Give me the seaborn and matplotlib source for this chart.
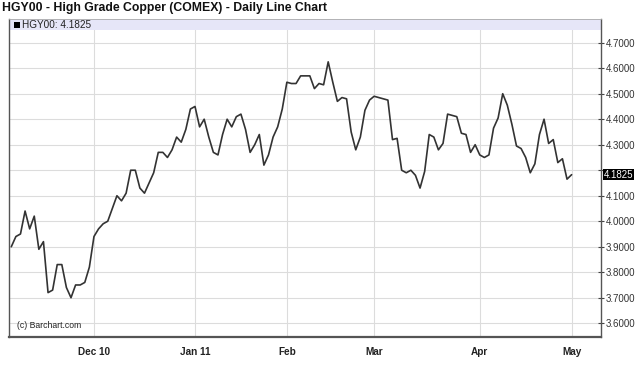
import numpy as np
import pandas as pd
import matplotlib
matplotlib.use("Agg")
import matplotlib.pyplot as plt
import seaborn as sns
from matplotlib.patches import Rectangle
from matplotlib.ticker import FuncFormatter

title = "HGY00 - High Grade Copper (COMEX) - Daily Line Chart"
symbol = "HGY00"
last_price = 4.1825
credit = "(c) Barchart.com"

prices = [
    3.90, 3.94, 3.95, 4.04, 3.97, 4.02, 3.89, 3.92, 3.72, 3.73,
    3.83, 3.83, 3.74, 3.70, 3.75, 3.75, 3.76, 3.82, 3.94, 3.97,
    3.99, 4.00, 4.05, 4.10, 4.08, 4.11, 4.20, 4.20, 4.13, 4.11,
    4.15, 4.19, 4.27, 4.27, 4.25, 4.28, 4.33, 4.31, 4.36, 4.44,
    4.45, 4.37, 4.40, 4.33, 4.27, 4.26, 4.34, 4.40, 4.37, 4.41,
    4.42, 4.36, 4.27, 4.30, 4.34, 4.22, 4.26, 4.33, 4.37, 4.44,
    4.545, 4.54, 4.54, 4.57, 4.57, 4.57, 4.52, 4.54, 4.535, 4.625,
    4.545, 4.47, 4.485, 4.48, 4.35, 4.28, 4.33, 4.435, 4.475, 4.49,
    4.485, 4.48, 4.475, 4.32, 4.325, 4.20, 4.19, 4.20, 4.18, 4.13,
    4.195, 4.34, 4.33, 4.28, 4.305, 4.42, 4.415, 4.41, 4.345, 4.34,
    4.27, 4.30, 4.26, 4.25, 4.26, 4.365, 4.405, 4.50, 4.455, 4.38,
    4.295, 4.285, 4.25, 4.19, 4.225, 4.34, 4.40, 4.305, 4.32, 4.23,
    4.245, 4.165, 4.1825,
]
start_date = "2010-11-04"
end_date = "2011-05-02"
holidays = ["2010-11-25", "2010-12-24", "2011-01-17", "2011-02-21", "2011-04-22"]
month_labels = ["Dec 10", "Jan 11", "Feb", "Mar", "Apr", "May"]
y_ticks = [3.6, 3.7, 3.8, 3.9, 4.0, 4.1, 4.2, 4.3, 4.4, 4.5, 4.6, 4.7]

dates = pd.bdate_range(start_date, end_date)
dates = dates[~dates.isin(pd.to_datetime(holidays))]
df = pd.DataFrame({"idx": np.arange(len(prices)), "date": dates[:len(prices)], "price": prices})
month_starts = df.groupby(df["date"].dt.to_period("M"))["idx"].min().values[1:]

sns.set_style("white")
plt.rcParams["font.family"] = ["Liberation Sans", "DejaVu Sans"]

fig = plt.figure(figsize=(6.4, 3.75), dpi=100)
ax = fig.add_axes([9 / 640, 1 - 337 / 375, 592 / 640, 318 / 375])

sns.lineplot(data=df, x="idx", y="price", ax=ax, color="#333333", linewidth=1.2, zorder=3)

ax.set_xlim(-0.5, 128.4)
ax.set_ylim(3.546, 4.793)
ax.set_xlabel("")
ax.set_ylabel("")


def ylab(v, pos):
    # the last-price box takes the place of the nearest tick label
    if abs(v - last_price) < 0.05:
        return ""
    return f"{v:.4f}"


ax.set_yticks(y_ticks)
ax.yaxis.set_major_formatter(FuncFormatter(ylab))
ax.yaxis.tick_right()
ax.tick_params(axis="y", direction="inout", length=5, width=0.8, color="#444444",
               labelsize=7, labelcolor="#333333", pad=1, left=False, right=True)
ax.set_xticks(month_starts)
ax.set_xticklabels(month_labels, fontweight="bold")
ax.tick_params(axis="x", direction="out", length=3, width=0.8, color="#444444",
               labelsize=7.2, labelcolor="#222222", pad=4)

ax.grid(True, color="#dcdcdc", linewidth=0.8, zorder=0)
ax.set_axisbelow(True)

for side in ["left", "bottom", "right"]:
    ax.spines[side].set_visible(True)
    ax.spines[side].set_color("#555555")
ax.spines["left"].set_linewidth(1.0)
ax.spines["right"].set_linewidth(1.0)
ax.spines["bottom"].set_linewidth(1.6)
ax.spines["top"].set_color("#aaaaaa")
ax.spines["top"].set_linewidth(0.6)

# legend band
band_h = 11 / 318
ax.add_patch(Rectangle((0, 1 - band_h), 1, band_h, transform=ax.transAxes,
                       facecolor="#e6e6f8", edgecolor="none", zorder=2))
ax.add_patch(Rectangle((5 / 592, 1 - 8.5 / 318), 5.5 / 592, 5.5 / 318, transform=ax.transAxes,
                       facecolor="black", edgecolor="none", zorder=4))
ax.text(13 / 592, 1 - 5.7 / 318, f"{symbol}: {last_price:.4f}", transform=ax.transAxes,
        fontsize=7.2, color="#222222", va="center", ha="left", zorder=4)

# last price marker on right axis
ax.text(1.0 + 3 / 592, last_price, f"{last_price:.4f}", transform=ax.get_yaxis_transform(),
        fontsize=7, color="white", va="center", ha="left",
        bbox=dict(boxstyle="square,pad=0.08", facecolor="black", edgecolor="none"), clip_on=False)

ax.text(8 / 592, 12 / 318, credit, transform=ax.transAxes, fontsize=6.2,
        color="#222222", va="center", ha="left")

fig.text(2 / 640, 1 - 8 / 375, title, fontsize=8.8, fontweight="bold",
         color="#111111", va="center", ha="left")

fig.savefig("out.png", dpi=100)
